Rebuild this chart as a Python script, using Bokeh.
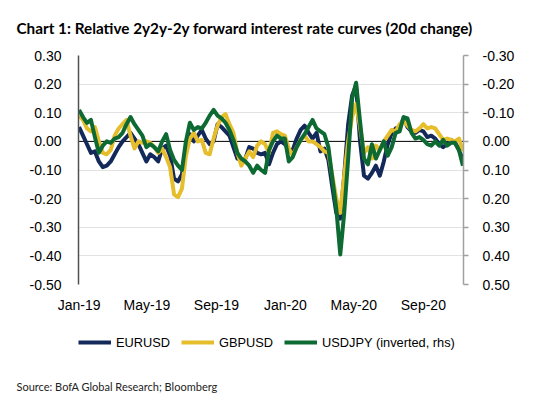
import numpy as np
import pandas as pd
from bokeh.plotting import figure
from bokeh.layouts import column
from bokeh.models import (Range1d, LinearAxis, FixedTicker, PrintfTickFormatter,
                          DatetimeTickFormatter, Span, Legend, LegendItem, Title)
from bokeh.embed import file_html
from bokeh.resources import INLINE

# ---------------- data (weekly, from 1 Jan 2019) ----------------
start_date = "2019-01-01"

eurusd = [0.05, 0.02, -0.01, -0.04, -0.035, -0.07, -0.09, -0.085, -0.07, -0.045,
          -0.02, 0.0, 0.015, 0.03, 0.01, -0.01, -0.04, -0.07, -0.045, -0.055,
          -0.07, -0.025, -0.015, -0.05, -0.13, -0.14, -0.115, -0.02, 0.025, 0.0,
          0.02, 0.04, 0.01, -0.01, 0.0, 0.06, 0.05, 0.035, 0.02, -0.02,
          -0.06, -0.065, -0.06, -0.02, -0.025, -0.04, -0.045, -0.04, -0.08, -0.04,
          -0.01, 0.0, -0.01, -0.03, -0.03, 0.01, 0.04, 0.055, 0.03, 0.01,
          0.03, -0.035, -0.025, -0.065, -0.16, -0.25, -0.27, -0.12, 0.06, 0.16,
          0.195, 0.0, -0.12, -0.13, -0.11, -0.085, -0.12, -0.07, -0.01, 0.03,
          0.045, 0.05, 0.08, 0.05, 0.035, 0.03, 0.04, 0.035, 0.015, 0.02,
          0.01, -0.01, -0.02, -0.01, 0.005, -0.005, -0.03, -0.065]

gbpusd = [0.09, 0.075, 0.045, 0.035, 0.05, 0.0, -0.04, -0.045, -0.03, 0.02,
          0.045, 0.06, 0.075, 0.02, -0.025, 0.0, -0.005, 0.0, -0.005, -0.02,
          -0.04, -0.025, -0.055, -0.09, -0.185, -0.195, -0.165, -0.05, 0.01, 0.03,
          0.0, 0.005, -0.04, -0.045, 0.01, 0.055, 0.085, 0.095, 0.06, 0.03,
          -0.04, -0.085, -0.06, -0.035, -0.055, -0.015, 0.0, -0.01, -0.04, 0.03,
          0.035, 0.025, 0.02, -0.025, -0.05, -0.02, 0.005, 0.02, 0.0, 0.0,
          -0.01, -0.02, -0.035, -0.04, -0.12, -0.2, -0.25, -0.12, 0.0, 0.085,
          0.13, 0.05, -0.04, -0.02, -0.06, -0.015, -0.03, 0.0, 0.02, 0.04,
          0.035, 0.06, 0.07, 0.055, 0.04, 0.035, 0.045, 0.06, 0.045, 0.05,
          0.045, 0.025, 0.005, 0.01, 0.005, 0.0, 0.01, -0.035]

# USDJPY values (plotted on the inverted right-hand axis)
usdjpy = [-0.11, -0.085, -0.065, -0.075, -0.015, 0.04, 0.015, 0.0, 0.005, -0.01,
          -0.015, -0.03, -0.06, -0.085, -0.06, -0.04, -0.02, 0.02, 0.01, 0.02,
          0.035, 0.0, -0.025, 0.03, 0.065, 0.085, 0.1, 0.0, -0.065, -0.04,
          -0.05, -0.045, -0.065, -0.09, -0.11, -0.09, -0.08, -0.065, -0.04, -0.005,
          0.04, 0.06, 0.07, 0.085, 0.11, 0.085, 0.1, 0.11, 0.03, 0.0,
          -0.02, -0.01, -0.01, 0.07, 0.055, 0.02, -0.005, -0.025, -0.05, -0.075,
          -0.045, -0.035, -0.025, 0.02, 0.13, 0.235, 0.395, 0.25, 0.06, -0.15,
          -0.205, -0.07, 0.06, 0.08, 0.01, 0.06, 0.03, 0.0, 0.05, 0.02,
          -0.03, -0.035, -0.085, -0.08, -0.03, -0.01, -0.015, -0.005, 0.01, 0.015,
          0.0, 0.015, -0.005, 0.015, 0.005, 0.005, 0.03, 0.085]

left_ticks = [-0.5, -0.4, -0.3, -0.2, -0.1, 0.0, 0.1, 0.2, 0.3]
right_ticks = [-0.3, -0.2, -0.1, 0.0, 0.1, 0.2, 0.3, 0.4, 0.5]
x_tick_dates = ["2019-01-01", "2019-05-01", "2019-09-01",
                "2020-01-01", "2020-05-01", "2020-09-01"]
series_names = ["EURUSD", "GBPUSD", "USDJPY (inverted, rhs)"]
colors = ["#13295a", "#e6bd2a", "#0e6a33"]

title_text = "Chart 1: Relative 2y2y-2y forward interest rate curves (20d change)"
source_text = "Source: BofA Global Research; Bloomberg"

dates = pd.date_range(start_date, periods=len(eurusd), freq="7D")

TICK_FONT = "Liberation Sans"
HEAD_FONT = "Lato"

# ---------------- main chart ----------------
p = figure(frame_width=385, frame_height=229, output_backend="svg",
           toolbar_location=None, x_axis_type="datetime",
           x_range=Range1d(pd.Timestamp("2018-12-31"), pd.Timestamp("2020-11-11")),
           y_range=Range1d(-0.5, 0.3),
           min_border_left=78, min_border_right=80, min_border_top=55,
           min_border_bottom=31)
p.outline_line_color = None
p.background_fill_color = "white"
p.border_fill_color = "white"

p.extra_y_ranges = {"jpy": Range1d(start=0.5, end=-0.3)}

# title
p.title.text = title_text
p.title.text_font = HEAD_FONT
p.title.text_font_size = "15.3px"
p.title.text_font_style = "bold"
p.title.text_color = "black"
p.title.align = "left"
p.title.vertical_align = "top"
p.title.offset = -62
p.title.standoff = 34

# grid
p.xgrid.visible = False
p.ygrid.grid_line_color = "#e2e2e2"
p.ygrid.grid_line_width = 1.2
p.ygrid.ticker = FixedTicker(ticks=left_ticks)

# left axis
yax = p.yaxis[0]
yax.ticker = FixedTicker(ticks=left_ticks)
yax.formatter = PrintfTickFormatter(format="%.2f")
yax.axis_line_color = "#505050"
yax.axis_line_width = 1.5
yax.major_tick_line_color = None
yax.minor_tick_line_color = None
yax.major_label_standoff = 11
yax.major_label_text_font = TICK_FONT
yax.major_label_text_font_size = "14px"
yax.major_label_text_color = "black"

# right axis
rax = LinearAxis(y_range_name="jpy", ticker=FixedTicker(ticks=right_ticks),
                 formatter=PrintfTickFormatter(format="%.2f"))
rax.axis_line_color = "#a0a0a0"
rax.axis_line_width = 1.5
rax.major_tick_line_color = "#a0a0a0"
rax.major_tick_line_width = 1.5
rax.major_tick_in = 0
rax.major_tick_out = 5
rax.minor_tick_line_color = None
rax.major_label_standoff = 14
rax.major_label_text_font = TICK_FONT
rax.major_label_text_font_size = "14px"
rax.major_label_text_color = "black"
p.add_layout(rax, "right")

# x axis
xax = p.xaxis[0]
xax.ticker = FixedTicker(ticks=(pd.to_datetime(x_tick_dates).asi8 // 10**6).tolist())
fmt = "%b-%y"
xax.formatter = DatetimeTickFormatter(days=fmt, months=fmt, years=fmt, hours=fmt,
                                      minutes=fmt, seconds=fmt, milliseconds=fmt,
                                      microseconds=fmt, minsec=fmt, hourmin=fmt)
xax.axis_line_color = None
xax.major_tick_line_color = None
xax.minor_tick_line_color = None
xax.major_label_standoff = 6
xax.major_label_text_font = TICK_FONT
xax.major_label_text_font_size = "14px"
xax.major_label_text_color = "black"

# zero line
p.add_layout(Span(location=0, dimension="width", line_color="black",
                  line_width=1, level="underlay"))

# series
r1 = p.line(dates, eurusd, line_color=colors[0], line_width=4, line_join="round")
r2 = p.line(dates, gbpusd, line_color=colors[1], line_width=4, line_join="round")
r3 = p.line(dates, usdjpy, line_color=colors[2], line_width=4, line_join="round",
            y_range_name="jpy")

# ---------------- legend + source strip ----------------
lf = figure(frame_width=385, frame_height=62, output_backend="svg",
            toolbar_location=None, x_range=Range1d(0, 1), y_range=Range1d(0, 1),
            min_border_left=78, min_border_right=80, min_border_top=0,
            min_border_bottom=22)
lf.xaxis.visible = False
lf.yaxis.visible = False
lf.grid.visible = False
lf.outline_line_color = None
lf.background_fill_color = "white"
lf.border_fill_color = "white"

# legend keys: same styles as the series, kept outside this strip's ranges
key_x = [2, 3]
key_y = [2, 2]
k1 = lf.line(x=key_x, y=key_y, line_color=colors[0], line_width=4)
k2 = lf.line(x=key_x, y=key_y, line_color=colors[1], line_width=4)
k3 = lf.line(x=key_x, y=key_y, line_color=colors[2], line_width=4)

legend = Legend(items=[LegendItem(label=series_names[0], renderers=[k1]),
                       LegendItem(label=series_names[1], renderers=[k2]),
                       LegendItem(label=series_names[2], renderers=[k3])],
                orientation="horizontal", location=(0, 25),
                border_line_color=None, background_fill_alpha=0,
                padding=0, margin=0, spacing=11, glyph_width=33, glyph_height=20,
                label_height=20, label_standoff=5,
                label_text_font=TICK_FONT, label_text_font_size="12.8px",
                label_text_color="black")
lf.add_layout(legend)

src = Title(text=source_text, align="left", vertical_align="top", offset=-62,
            standoff=4, text_font=HEAD_FONT, text_font_size="11px",
            text_font_style="normal", text_color="#222222")
lf.add_layout(src, "below")

layout = column(p, lf, spacing=0)
open("out.html", "w").write(file_html(layout, INLINE))
